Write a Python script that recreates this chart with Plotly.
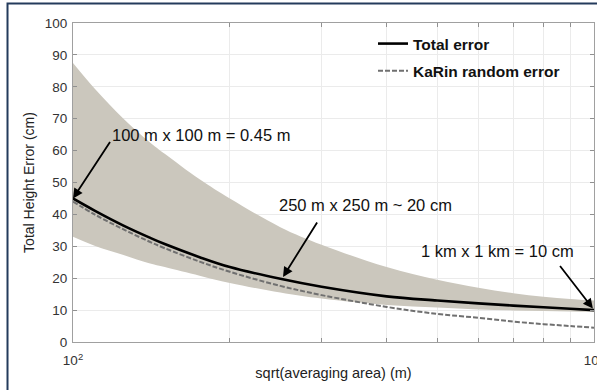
import math
import plotly.graph_objects as go

# averaging scale (m) and error curves (cm)
scale_m = [100, 110, 125, 140, 150, 175, 200, 250, 300, 400, 500, 600, 700, 800, 900, 1000]
total_error = [45.0, 41.2, 36.5, 32.8, 30.7, 26.6, 23.5, 19.8, 17.3, 14.3, 13.0, 12.1, 11.4, 10.9, 10.4, 10.0]
karin_error = [44.0, 40.0, 35.3, 31.5, 29.4, 25.2, 22.0, 17.6, 14.7, 11.0, 8.8, 7.6, 6.4, 5.6, 5.0, 4.5]
band_upper = [87.5, 79.5, 70.0, 62.8, 59.0, 51.0, 45.0, 36.0, 30.5, 23.5, 19.5, 17.0, 15.3, 14.2, 13.5, 13.0]
band_lower = [33.0, 30.2, 27.3, 24.7, 23.5, 20.8, 18.5, 15.5, 13.6, 11.6, 10.8, 10.2, 9.9, 9.7, 9.6, 9.5]

x_tickvals = [100, 200, 300, 400, 500, 600, 700, 800, 900, 1000]
x_ticktext = ["10<sup>2</sup>", "", "", "", "", "", "", "", "", "10<sup>3</sup>"]
y_tickvals = [0, 10, 20, 30, 40, 50, 60, 70, 80, 90, 100]

# callouts: (text, text x, text y, arrow head x, arrow head y, tail dx px, tail dy px)
callouts = [
    ("100 m x 100 m = 0.45 m", 176, 64.9, 100, 45, 38, -58),
    ("250 m x 250 m ~ 20 cm", 365, 42.9, 253, 20.4, 35, -56),
    ("1 km x 1 km = 10 cm", 654, 28.6, 995, 10.5, -34, -44),
]

FONT = "Liberation Sans, Arial, sans-serif"
BAND = "#cbc7bd"

fig = go.Figure()

fig.add_trace(go.Scatter(x=scale_m, y=band_lower, mode="lines", line=dict(width=0, color=BAND, shape="spline"),
                         showlegend=False, hoverinfo="skip"))
fig.add_trace(go.Scatter(x=scale_m, y=band_upper, mode="lines", line=dict(width=0, color=BAND, shape="spline"),
                         fill="tonexty", fillcolor=BAND, showlegend=False, hoverinfo="skip"))
fig.add_trace(go.Scatter(x=scale_m, y=karin_error, mode="lines", name="KaRin random error",
                         line=dict(color="#707070", width=2, dash="5px,2px", shape="spline"),
                         legendgroup="b", legendrank=2))
fig.add_trace(go.Scatter(x=scale_m, y=total_error, mode="lines", name="Total error",
                         line=dict(color="black", width=2.6, shape="spline"),
                         legendgroup="a", legendrank=1))

# log axes take annotation positions in log10 units
for text, tx, ty, hx, hy, dx, dy in callouts:
    fig.add_annotation(x=math.log10(hx), y=hy, xref="x", yref="y", text="", showarrow=True,
                       ax=dx, ay=dy, axref="pixel", ayref="pixel",
                       arrowhead=2, arrowsize=1.1, arrowwidth=1.8, arrowcolor="black", standoff=0)
    fig.add_annotation(x=math.log10(tx), y=ty, xref="x", yref="y", text=text, showarrow=False,
                       font=dict(family=FONT, size=16.5, color="#111"))

# outer frame
fig.add_shape(type="rect", xref="paper", yref="paper", x0=-0.1257, x1=1.05, y0=-0.3, y1=1.061,
              line=dict(color="#243b5c", width=2), fillcolor="rgba(0,0,0,0)", layer="above")

axis_common = dict(showline=True, linecolor="#a0a0a0", linewidth=1, mirror="ticks",
                   ticks="inside", ticklen=4, tickcolor="#909090", automargin=False,
                   showgrid=True, gridcolor="#ebebeb", gridwidth=1, zeroline=False,
                   tickfont=dict(family=FONT, size=13.5, color="#333"))

fig.update_xaxes(type="log", range=[2, 3], tickvals=x_tickvals, ticktext=x_ticktext,
                 ticklabelstandoff=6, ticklabeloverflow="allow",
                 title=dict(text="sqrt(averaging area) (m)", font=dict(family=FONT, size=14.5, color="#222"),
                            standoff=0),
                 **axis_common)
fig.update_yaxes(range=[0, 100], tickvals=y_tickvals, ticklabelstandoff=2,
                 title=dict(text="Total Height Error (cm)", font=dict(family=FONT, size=14, color="#222"),
                            standoff=6),
                 **axis_common)

fig.update_layout(
    width=597, height=390,
    margin=dict(l=73, r=3, t=23, b=48, autoexpand=False),
    paper_bgcolor="white", plot_bgcolor="white",
    font=dict(family=FONT),
    showlegend=True,
    legend=dict(x=(373 - 73) / 521, y=(342 - 27) / 319, xanchor="left", yanchor="top",
                bgcolor="rgba(0,0,0,0)", borderwidth=0, traceorder="grouped", tracegroupgap=4,
                font=dict(family=FONT, size=15.5, color="#111", weight="bold")),
)

fig.write_html("out.html")
